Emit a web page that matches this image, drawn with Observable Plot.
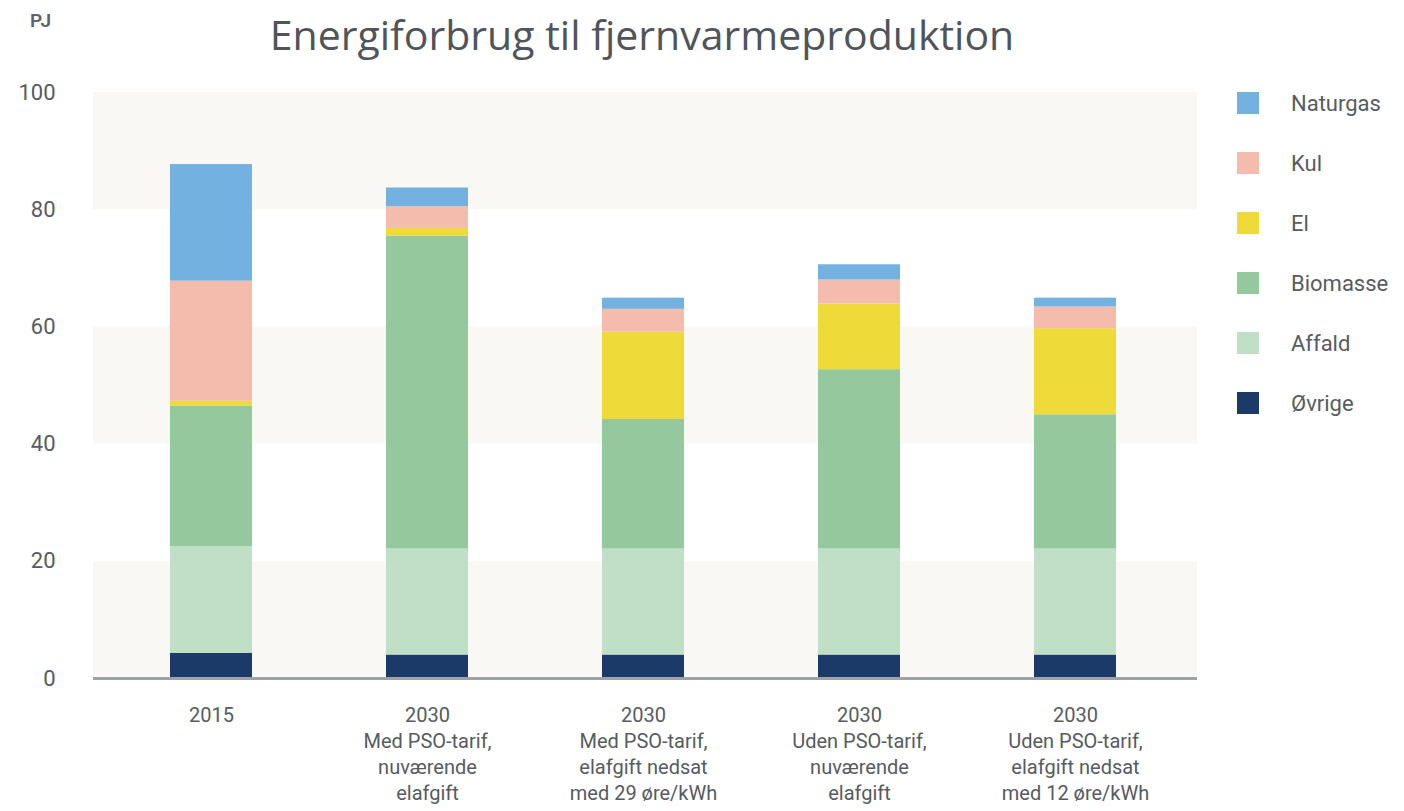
<!DOCTYPE html>
<html>
<head>
<meta charset="utf-8">
<script src="https://cdn.jsdelivr.net/npm/d3@7"></script>
<script src="https://cdn.jsdelivr.net/npm/@observablehq/plot@0.6"></script>
<style>
  html, body { margin: 0; padding: 0; background: #fff; }
  #wrap { position: relative; width: 1404px; height: 811px; overflow: hidden; font-family: Roboto, "Liberation Sans", sans-serif; }
  #header { position: relative; height: 70px; }
  #title { position: absolute; left: 0; width: 1284px; top: 10px; text-align: center; font-family: "Open Sans", Lato, sans-serif; font-size: 41px; color: #50545b; white-space: nowrap; line-height: 1.2; }
  #unit { position: absolute; left: 30px; top: 9px; font-size: 19px; font-weight: 600; color: #5d6168; }
  #legend { position: absolute; left: 1237px; top: 92px; }
  .item { position: absolute; left: 0; height: 22px; display: flex; align-items: center; white-space: nowrap; }
  .sw { width: 22px; height: 22px; }
  .lab { margin-left: 32px; font-size: 22px; color: #575b62; }
</style>
</head>
<body>
<div id="wrap">
  <div id="header">
    <div id="unit">PJ</div>
    <div id="title">Energiforbrug til fjernvarmeproduktion</div>
  </div>
  <div id="chart"></div>
  <div id="legend"></div>
</div>
<script>
const categories = ["2015", "2030 A", "2030 B", "2030 C", "2030 D"];
const tickLabels = [
  "2015",
  "2030\nMed PSO-tarif,\nnuværende\nelafgift",
  "2030\nMed PSO-tarif,\nelafgift nedsat\nmed 29 øre/kWh",
  "2030\nUden PSO-tarif,\nnuværende\nelafgift",
  "2030\nUden PSO-tarif,\nelafgift nedsat\nmed 12 øre/kWh"
];
const seriesNames = ["Øvrige", "Affald", "Biomasse", "El", "Kul", "Naturgas"];
const seriesColors = ["#1b3a67", "#bfdfc6", "#95c89c", "#eedb3a", "#f4bcad", "#72b1e0"];
// values per category, in order of seriesNames (PJ)
const ovrige   = [4.3, 4.0, 4.0, 4.0, 4.0];
const affald   = [18.2, 18.1, 18.1, 18.1, 18.1];
const biomasse = [24.0, 53.4, 22.1, 30.6, 22.9];
const el       = [0.8, 1.3, 14.9, 11.2, 14.7];
const kul      = [20.5, 3.7, 3.9, 4.1, 3.7];
const naturgas = [19.9, 3.2, 1.9, 2.6, 1.5];
const legendOrder = ["Naturgas", "Kul", "El", "Biomasse", "Affald", "Øvrige"];
const yTicks = [0, 20, 40, 60, 80, 100];
const bandRanges = [[0, 20], [40, 60], [80, 100]];

const seriesValues = [ovrige, affald, biomasse, el, kul, naturgas];
const data = [];
seriesNames.forEach((s, i) => {
  categories.forEach((c, j) => data.push({category: c, series: s, value: seriesValues[i][j]}));
});
const labelOf = new Map(categories.map((c, i) => [c, tickLabels[i]]));

const chart = Plot.plot({
  width: 1404,
  height: 741,
  marginTop: 22,
  marginBottom: 133,
  marginLeft: 93,
  marginRight: 207,
  style: {fontFamily: "Roboto, sans-serif", background: "transparent"},
  x: {domain: categories, paddingInner: 0.62, paddingOuter: 0.35, insetRight: 4, axis: null},
  y: {domain: [0, 100], ticks: yTicks, tickSize: 0, tickPadding: 38, label: null, tickFormat: d => String(d)},
  color: {domain: seriesNames, range: seriesColors},
  marks: [
    Plot.rect(bandRanges, {y1: d => d[0], y2: d => d[1], fill: "#f9f8f4"}),
    Plot.barY(data, {x: "category", y: "value", fill: "series", order: seriesNames}),
    Plot.ruleY([0], {stroke: "#9ea2a9", strokeWidth: 3}),
    Plot.axisY({ticks: yTicks, tickSize: 0, tickPadding: 38, fontSize: 22, fill: "#575b62", label: null}),
    Plot.text(categories, {x: d => d, text: d => labelOf.get(d), frameAnchor: "bottom", lineAnchor: "top", dy: 25, lineHeight: 1.3, fontSize: 20, fill: "#575b62", style: {letterSpacing: "-0.9px"}})
  ]
});
document.getElementById("chart").appendChild(chart);

const legend = document.getElementById("legend");
const rowTops = [0, 60, 120, 180, 240, 300];
legendOrder.forEach((name, i) => {
  const item = document.createElement("div");
  item.className = "item";
  item.style.top = rowTops[i] + "px";
  const sw = document.createElement("div");
  sw.className = "sw";
  sw.style.background = seriesColors[seriesNames.indexOf(name)];
  const lab = document.createElement("span");
  lab.className = "lab";
  lab.textContent = name;
  item.appendChild(sw);
  item.appendChild(lab);
  legend.appendChild(item);
});
</script>
</body>
</html>
